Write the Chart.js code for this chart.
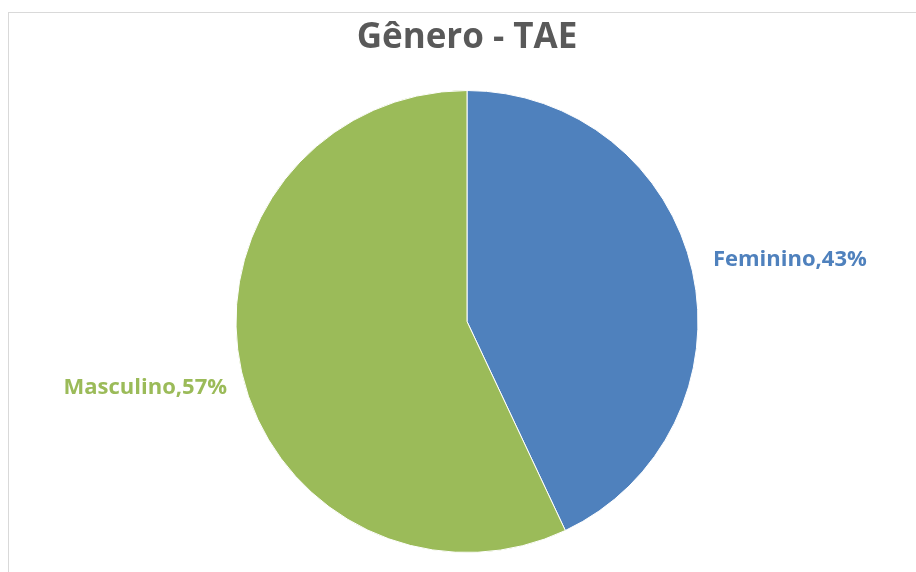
<!DOCTYPE html>
<html>
<head>
<meta charset="utf-8">
<script src="https://cdn.jsdelivr.net/npm/chart.js@4.4.1/dist/chart.umd.min.js"></script>
<style>
  html, body { margin: 0; padding: 0; background: #fff; }
  #wrap { width: 916px; height: 572px; }
</style>
</head>
<body>
<div id="wrap"><canvas id="genero"></canvas></div>
<script>
  const labels = ["Feminino", "Masculino"];
  const values = [43, 57];
  const colors = ["#4F81BD", "#9BBB59"];

  // light frame like the spreadsheet chart area
  const frame = {
    id: "frame",
    beforeDraw(chart) {
      const ctx = chart.ctx;
      ctx.save();
      ctx.fillStyle = "#fff";
      ctx.fillRect(0, 0, chart.width, chart.height);
      ctx.strokeStyle = "#D9D9D9";
      ctx.lineWidth = 1;
      ctx.strokeRect(8.5, 12.5, 2000, 2000);
      ctx.restore();
    }
  };

  // outside-end labels "Name,pct%"
  const outLabels = {
    id: "outLabels",
    afterDatasetsDraw(chart) {
      const ctx = chart.ctx;
      const meta = chart.getDatasetMeta(0);
      const total = values.reduce((a, b) => a + b, 0);
      ctx.save();
      ctx.font = "bold 22px 'Open Sans', sans-serif";
      meta.data.forEach((arc, i) => {
        const mid = (arc.startAngle + arc.endAngle) / 2;
        const r = arc.outerRadius + 21;
        const dx = Math.cos(mid), dy = Math.sin(mid);
        const x = arc.x + dx * r;
        const y = arc.y + dy * r;
        const pct = Math.round(values[i] / total * 100);
        ctx.fillStyle = colors[i];
        ctx.textAlign = dx >= 0 ? "left" : "right";
        ctx.textBaseline = dy < 0 ? "alphabetic" : "top";
        ctx.fillText(labels[i] + "," + pct + "%", x + (dx >= 0 ? 0 : 6), y + (dy < 0 ? -1 : 0));
      });
      ctx.restore();
    }
  };

  const data = {
    labels: labels,
    datasets: [{
      data: values,
      backgroundColor: colors,
      borderColor: "#fff",
      borderWidth: 1,
      hoverOffset: 0
    }]
  };

  const config = {
    type: "pie",
    data: data,
    options: {
      responsive: true,
      maintainAspectRatio: false,
      animation: false,
      layout: {
        padding: { top: 0, bottom: 19, left: 18, right: 0 }
      },
      plugins: {
        title: {
          display: true,
          text: "Gênero - TAE",
          color: "#595959",
          font: { family: "'Open Sans', sans-serif", size: 35, weight: "bold" },
          padding: { top: 17, bottom: 31 }
        },
        legend: { display: false },
        tooltip: { enabled: false }
      }
    },
    plugins: [frame, outLabels]
  };

  new Chart(
    document.getElementById("genero"),
    config
  );
</script>
</body>
</html>
